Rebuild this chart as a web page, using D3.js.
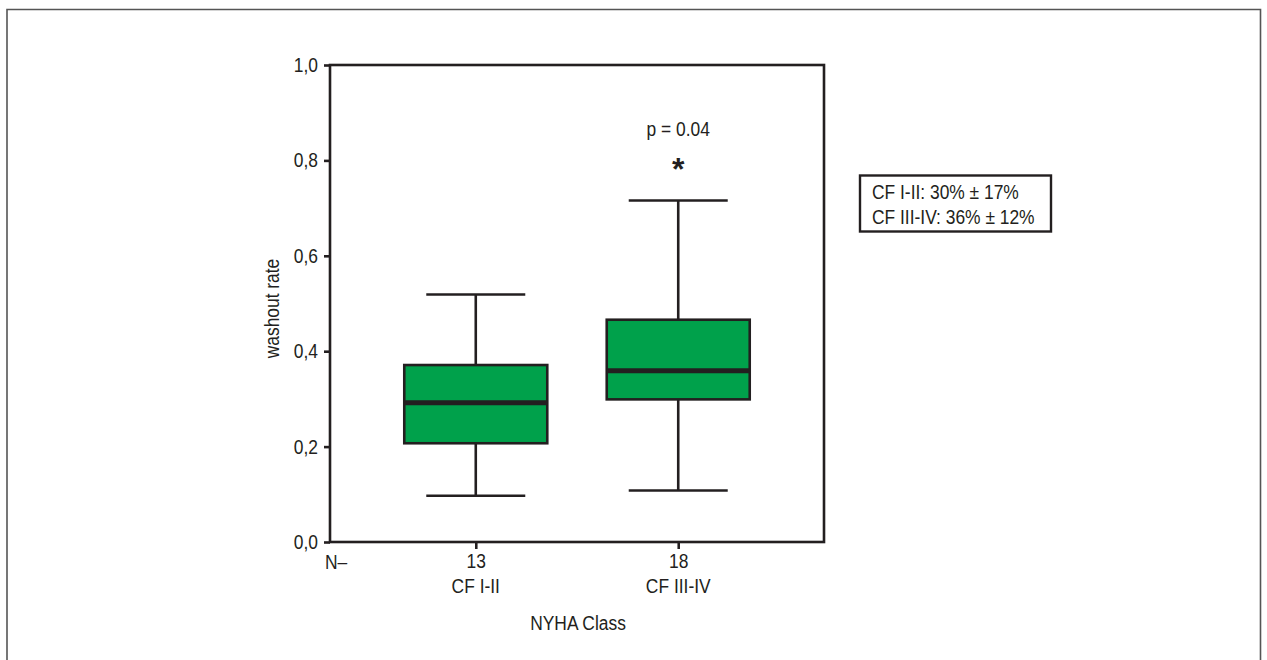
<!DOCTYPE html>
<html><head><meta charset="utf-8">
<script src="https://cdn.jsdelivr.net/npm/d3@7"></script>
<style>body{margin:0;background:#fff}svg{display:block}text{font-family:"Liberation Sans",Arial,sans-serif;fill:#231f20}</style>
</head><body>
<script>
const categories = ["CF I-II", "CF III-IV"];
const counts = [13, 18];
const whiskerLow = [0.097, 0.108];
const q1 = [0.207, 0.299];
const median = [0.292, 0.359];
const q3 = [0.371, 0.466];
const whiskerHigh = [0.519, 0.716];
const yTicks = [0, 0.2, 0.4, 0.6, 0.8, 1.0];
const legendLines = ["CF I-II: 30% ± 17%", "CF III-IV: 36% ± 12%"];
const pLabel = "p = 0.04";

const W = 1267, H = 660;
const FS = 20, SX = 0.87;
const svg = d3.select("body").append("svg").attr("width", W).attr("height", H);
const ink = "#231f20";

function label(x, y, txt, anchor, rot) {
  const g = svg.append("g").attr("transform", `translate(${x},${y})${rot ? ` rotate(${rot})` : ""} scale(${SX},1)`);
  g.append("text").attr("text-anchor", anchor || "start").attr("font-size", FS).text(txt);
  return g;
}

// outer frame
svg.append("path").attr("d", `M7,${H+5} V9.5 H1260.5 V${H+5}`).attr("fill","none").attr("stroke","#555").attr("stroke-width",1.6);

const L = 330, R = 824, T = 65, B = 542;
const y = d3.scaleLinear().domain([0, 1]).range([B, T]);
const x = d3.scalePoint().domain(categories).range([L, R]).padding(0.72);

// plot frame
svg.append("rect").attr("x", L).attr("y", T).attr("width", R-L).attr("height", B-T)
  .attr("fill","none").attr("stroke", ink).attr("stroke-width", 2.6);

// y axis
const yAxis = d3.axisLeft(y).tickValues(yTicks).tickSize(6).tickPadding(6)
  .tickFormat(d => d3.format(".1f")(d).replace(".", ","));
const gy = svg.append("g").attr("transform", `translate(${L},0)`).call(yAxis);
gy.select(".domain").remove();
gy.selectAll(".tick line").attr("stroke", ink).attr("stroke-width", 2.6);
gy.selectAll(".tick text").attr("font-size", FS).attr("fill", ink).attr("font-family","Liberation Sans, Arial, sans-serif")
  .attr("x", -12 / SX).attr("transform", `scale(${SX},1)`);

// x axis
const xAxis = d3.axisBottom(x).tickSize(7).tickPadding(5).tickFormat((d,i) => counts[i]);
const gx = svg.append("g").attr("transform", `translate(0,${B})`).call(xAxis);
gx.select(".domain").remove();
gx.selectAll(".tick line").attr("stroke", ink).attr("stroke-width", 2.6);
gx.selectAll(".tick text").attr("font-size", FS).attr("fill", ink).attr("font-family","Liberation Sans, Arial, sans-serif")
  .attr("transform", `scale(${SX},1)`);
categories.forEach(c => label(x(c), 593, c, "middle"));
label(325, 569, "N–", "start");
label(578, 630, "NYHA Class", "middle");
label(279, (T+B)/2 + 5, "washout rate", "middle", -90);

// boxes
const boxW = 143, capW = 99;
categories.forEach((c, i) => {
  const cx = x(c);
  const g = svg.append("g");
  g.append("line").attr("x1",cx).attr("x2",cx).attr("y1",y(whiskerHigh[i])).attr("y2",y(q3[i])).attr("stroke",ink).attr("stroke-width",2.6);
  g.append("line").attr("x1",cx).attr("x2",cx).attr("y1",y(q1[i])).attr("y2",y(whiskerLow[i])).attr("stroke",ink).attr("stroke-width",2.6);
  [whiskerHigh[i], whiskerLow[i]].forEach(v => {
    g.append("line").attr("x1",cx-capW/2).attr("x2",cx+capW/2).attr("y1",y(v)).attr("y2",y(v)).attr("stroke",ink).attr("stroke-width",2.6);
  });
  g.append("rect").attr("x",cx-boxW/2).attr("y",y(q3[i])).attr("width",boxW).attr("height",y(q1[i])-y(q3[i]))
    .attr("fill","#00a14b").attr("stroke",ink).attr("stroke-width",2.6);
  g.append("line").attr("x1",cx-boxW/2).attr("x2",cx+boxW/2).attr("y1",y(median[i])).attr("y2",y(median[i])).attr("stroke",ink).attr("stroke-width",5);
});

// annotation
label(x(categories[1]), 136, pLabel, "middle");
svg.append("text").attr("x", x(categories[1])).attr("y", 180).attr("text-anchor","middle").attr("font-size",32).attr("font-weight","bold").text("*");

// legend box
svg.append("rect").attr("x", 860).attr("y", 175.5).attr("width", 191).attr("height", 56).attr("fill","none").attr("stroke",ink).attr("stroke-width",2.4);
legendLines.forEach((t, i) => label(872, 199 + i*25, t, "start"));
</script>
</body></html>
